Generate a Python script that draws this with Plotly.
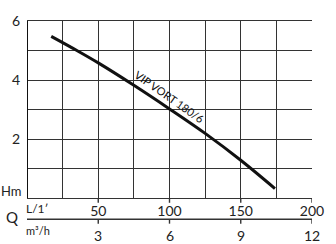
import plotly.graph_objects as go

# Curve data
flow_lpm = [17, 35, 50, 75, 100, 125, 150, 174]
head_m = [5.48, 5.0, 4.58, 3.82, 3.02, 2.19, 1.28, 0.32]

# Axis ticks
x_grid = [0, 25, 50, 75, 100, 125, 150, 175, 200]
x_ticks = [50, 100, 150, 200]
m3h_text = ["3", "6", "9", "12"]
y_grid = [0, 1, 2, 3, 4, 5, 6]
y_ticks = [2, 4, 6]

series_label = "VIP VORT 180/6"

FONT = "Lato"
TXT = "#222222"
GRID = "#333333"
LW = 1.4

fig = go.Figure()

fig.add_trace(go.Scatter(
    x=flow_lpm, y=head_m, mode="lines",
    line=dict(color="#111111", width=3, shape="spline", smoothing=1.0),
    hoverinfo="skip", showlegend=False,
))

fig.update_layout(
    width=336, height=244,
    margin=dict(l=25, r=19, t=14, b=46),
    paper_bgcolor="white", plot_bgcolor="white",
    font=dict(family=FONT, color=TXT, size=13),
    xaxis=dict(
        range=[0, 200], tickmode="array", tickvals=x_grid,
        ticktext=[str(v) if v in x_ticks else "" for v in x_grid],
        ticks="", showgrid=True, gridcolor=GRID, gridwidth=LW,
        showline=True, linecolor=GRID, linewidth=LW, mirror=True,
        zeroline=False,
        tickfont=dict(size=14, color=TXT, family=FONT),
        fixedrange=True,
    ),
    yaxis=dict(
        range=[0, 6], tickmode="array", tickvals=y_grid,
        ticktext=[str(v) if v in y_ticks else "" for v in y_grid],
        ticks="outside", ticklen=3, tickcolor="rgba(0,0,0,0)",
        showgrid=True, gridcolor=GRID, gridwidth=LW,
        showline=False, zeroline=False,
        tickfont=dict(size=14, color=TXT, family=FONT),
        fixedrange=True,
    ),
)

# Left axis line (black, thicker)
fig.add_shape(type="line", xref="x", yref="paper", x0=0, x1=0, y0=0, y1=1,
              line=dict(color="#111111", width=2), layer="above")

# Tick marks under main axis
for xv in x_ticks:
    fig.add_shape(type="line", xref="x", yref="paper", x0=xv, x1=xv,
                  y0=0, y1=-0.027, line=dict(color=GRID, width=LW))

# Secondary scale line and ticks (m3/h)
sec_y = -0.12
fig.add_shape(type="line", xref="x", yref="paper", x0=0, x1=200, y0=sec_y, y1=sec_y,
              line=dict(color=GRID, width=LW))
for xv, t in zip(x_ticks, m3h_text):
    fig.add_shape(type="line", xref="x", yref="paper", x0=xv, x1=xv,
                  y0=sec_y, y1=sec_y - 0.025, line=dict(color=GRID, width=LW))
    fig.add_annotation(x=xv, y=sec_y - 0.03, xref="x", yref="paper", text=t,
                       showarrow=False, yanchor="top",
                       font=dict(size=14, color=TXT, family=FONT))

# Axis side labels
fig.add_annotation(x=0, y=0, xref="paper", yref="paper", text="Hm", showarrow=False,
                   xanchor="right", yanchor="bottom", xshift=-3, yshift=-3,
                   font=dict(size=13, color=TXT, family=FONT))
fig.add_annotation(x=0, y=-0.11, xref="paper", yref="paper", text="Q", showarrow=False,
                   xanchor="right", yanchor="middle", xshift=-7,
                   font=dict(size=15, color=TXT, family=FONT))
fig.add_annotation(x=0, y=sec_y, xref="paper", yref="paper", text="L/1′", showarrow=False,
                   xanchor="left", yanchor="bottom", xshift=-3, yshift=1,
                   font=dict(size=12, color=TXT, family=FONT))
fig.add_annotation(x=0, y=sec_y, xref="paper", yref="paper", text="m³/h", showarrow=False,
                   xanchor="left", yanchor="top", xshift=-3, yshift=-3,
                   font=dict(size=11, color=TXT, family=FONT))

# Curve label
fig.add_annotation(x=100, y=3.45, xref="x", yref="y", text=series_label, showarrow=False,
                   textangle=35, font=dict(size=11, color="#111111", family=FONT))

fig.write_html("out.html")
